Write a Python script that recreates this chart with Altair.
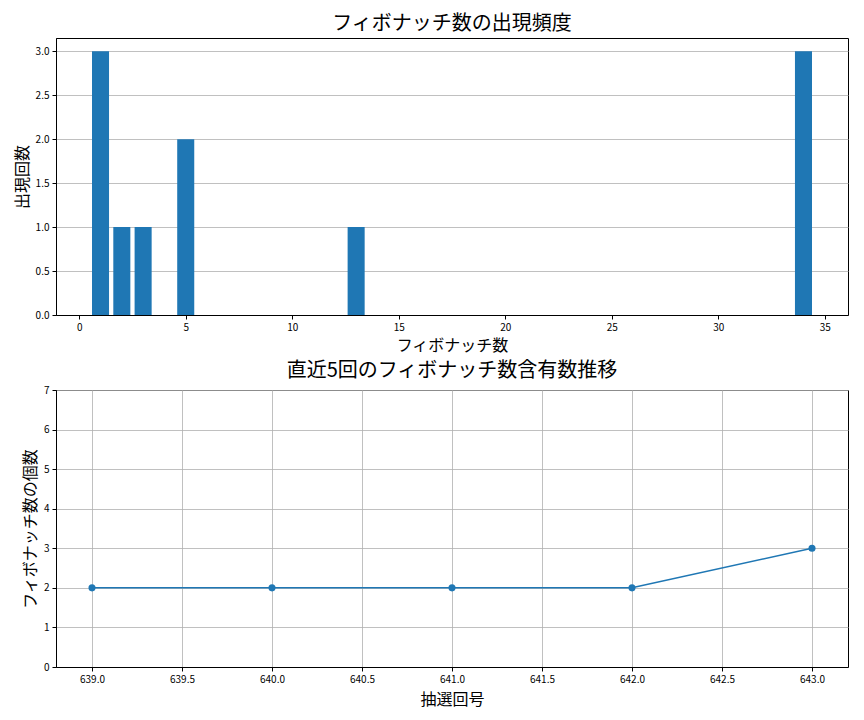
import altair as alt
import pandas as pd

FONT = "Noto Sans CJK JP"

fib_numbers = [1, 2, 3, 5, 13, 34]
fib_counts = [3, 1, 1, 2, 1, 3]

draw_numbers = [639, 640, 641, 642, 643]
fib_per_draw = [2, 2, 2, 2, 3]

top_x_ticks = [0, 5, 10, 15, 20, 25, 30, 35]
top_y_ticks = [0.0, 0.5, 1.0, 1.5, 2.0, 2.5, 3.0]
bot_x_ticks = [639.0, 639.5, 640.0, 640.5, 641.0, 641.5, 642.0, 642.5, 643.0]
bot_y_ticks = [0, 1, 2, 3, 4, 5, 6, 7]

BLUE = "#1f77b4"
GRID = "#b0b0b0"

bar_df = pd.DataFrame({"num": fib_numbers, "count": fib_counts})
line_df = pd.DataFrame({"draw": draw_numbers, "n": fib_per_draw})

W, H = 792, 277

top = (
    alt.Chart(bar_df)
    .transform_calculate(x0="datum.num - 0.4", x1="datum.num + 0.4")
    .mark_bar(color=BLUE)
    .encode(
        x=alt.X("x0:Q", title="フィボナッチ数",
                scale=alt.Scale(domain=[-1.09, 36.09], nice=False, zero=False),
                axis=alt.Axis(values=top_x_ticks, format="d", grid=False, titlePadding=5)),
        x2="x1:Q",
        y=alt.Y("count:Q", title="出現回数",
                scale=alt.Scale(domain=[0, 3.15], nice=False),
                axis=alt.Axis(values=top_y_ticks, format=".1f", grid=True)),
        y2=alt.datum(0),
    )
    .properties(width=W, height=H,
                title=alt.TitleParams("フィボナッチ数の出現頻度", fontSize=20,
                                      font=FONT, fontWeight="normal", offset=4))
)

base = alt.Chart(line_df).encode(
    x=alt.X("draw:Q", title="抽選回号",
            scale=alt.Scale(domain=[638.8, 643.2], nice=False, zero=False),
            axis=alt.Axis(values=bot_x_ticks, format=".1f", grid=True, titlePadding=7)),
    y=alt.Y("n:Q", title="フィボナッチ数の個数",
            scale=alt.Scale(domain=[0, 7], nice=False),
            axis=alt.Axis(values=bot_y_ticks, format="d", grid=True)),
)
bottom = (
    (base.mark_line(color=BLUE, strokeWidth=1.5)
     + base.mark_point(color=BLUE, filled=True, opacity=1, size=50, shape="circle"))
    .properties(width=W, height=H,
                title=alt.TitleParams("直近5回のフィボナッチ数含有数推移", fontSize=20,
                                      font=FONT, fontWeight="normal", offset=4))
)

chart = (
    alt.vconcat(top, bottom, spacing=6)
    .configure(font=FONT, padding={"left": 5, "top": 5, "right": 5, "bottom": 3})
    .configure_view(stroke="black", strokeWidth=1)
    .configure_axis(
        labelFont=FONT, titleFont=FONT, labelFontSize=10, titleFontSize=16,
        titleFontWeight="normal", labelColor="black", titleColor="black",
        domainColor="black", tickColor="black", tickSize=4, domainWidth=1,
        gridColor=GRID, gridWidth=0.8, labelPadding=3, titlePadding=5,
    )
    .configure_title(anchor="middle", color="black")
)

chart.save("out.html", embed_options={"renderer": "svg", "actions": False})
